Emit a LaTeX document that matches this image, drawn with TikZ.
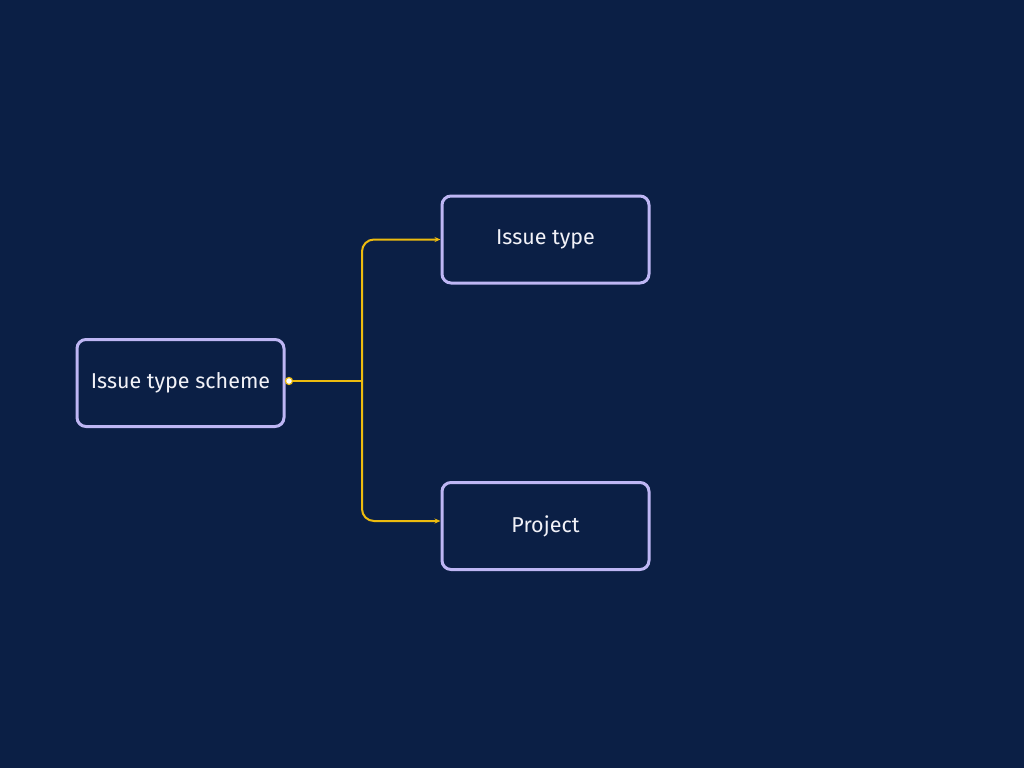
\documentclass[tikz,border=0pt]{standalone}
\usepackage{fontspec}
\setmainfont{Fira Sans}
\usetikzlibrary{arrows.meta}
\definecolor{bgc}{HTML}{0B1F45}
\definecolor{boxc}{HTML}{BEB6F4}
\definecolor{linec}{HTML}{EDBB0F}
\definecolor{txtc}{HTML}{F2F2F8}
\tikzset{
  box/.style={draw=boxc, line width=3pt, rounded corners=9pt, fill=bgc,
    minimum width=207pt, minimum height=87pt, text=txtc, font=\fontsize{21.5}{24}\selectfont, inner sep=0pt},
  conn/.style={draw=linec, line width=2pt, rounded corners=12pt, -{Stealth[length=6pt,width=5pt]}}
}
\begin{document}
\begin{tikzpicture}[x=1pt,y=-1pt]
\fill[bgc] (0,0) rectangle (1024,768);
\useasboundingbox (0,0) rectangle (1024,768);
\node[box] (s) at (180.5,383) {Issue type scheme};
\node[box] (t) at (545.5,239.5) {Issue type};
\node[box] (p) at (545.5,526) {Project};
\coordinate (j) at (362,381);
\coordinate (d) at (289,381);
\draw[draw=linec, line width=2pt] (d) -- (j);
\draw[conn] (j) |- (t.west);
\draw[conn] (j) |- ([yshift=5pt]p.west);
\filldraw[fill=white, draw=linec, line width=1.2pt] (d) circle (3.5pt);
\end{tikzpicture}
\end{document}
